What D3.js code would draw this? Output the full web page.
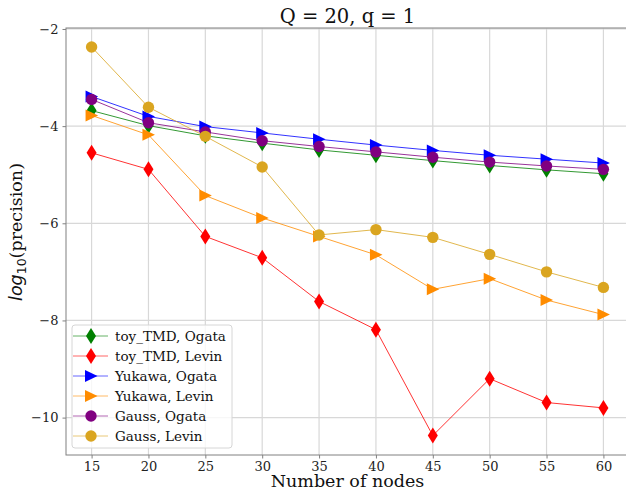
<!DOCTYPE html>
<html>
<head>
<meta charset="utf-8">
<script src="https://cdn.jsdelivr.net/npm/d3@7"></script>
<style>
  body { margin: 0; background: #fff; }
  svg { font-family: "DejaVu Serif", serif; }
</style>
</head>
<body>
<svg id="chart" width="626" height="490"></svg>
<script>
var nodes = [15, 20, 25, 30, 35, 40, 45, 50, 55, 60];
var xTicks = [15, 20, 25, 30, 35, 40, 45, 50, 55, 60];
var yTicks = [-10, -8, -6, -4, -2];

var toyOgata   = [-3.68, -3.99, -4.20, -4.35, -4.49, -4.60, -4.71, -4.81, -4.90, -4.98];
var toyLevin   = [-4.55, -4.89, -6.27, -6.71, -7.61, -8.19, -10.37, -9.20, -9.69, -9.80];
var yukOgata   = [-3.39, -3.80, -4.01, -4.14, -4.27, -4.39, -4.50, -4.60, -4.68, -4.76];
var yukLevin   = [-3.78, -4.18, -5.43, -5.89, -6.27, -6.65, -7.36, -7.14, -7.58, -7.88];
var gaussOgata = [-3.45, -3.93, -4.12, -4.30, -4.42, -4.53, -4.64, -4.74, -4.82, -4.89];
var gaussLevin = [-2.37, -3.61, -4.21, -4.84, -6.24, -6.13, -6.29, -6.64, -7.00, -7.32];

var series = [
  {name: 'toy_TMD, Ogata', vals: toyOgata, color: '#008000', marker: 'diamond'},
  {name: 'toy_TMD, Levin', vals: toyLevin, color: '#ff0000', marker: 'diamond'},
  {name: 'Yukawa, Ogata', vals: yukOgata, color: '#0000ff', marker: 'tri'},
  {name: 'Yukawa, Levin', vals: yukLevin, color: '#ff8c00', marker: 'tri'},
  {name: 'Gauss, Ogata', vals: gaussOgata, color: '#800080', marker: 'circle'},
  {name: 'Gauss, Levin', vals: gaussLevin, color: '#daa520', marker: 'circle'}
];

var plotL = 66, plotR = 629, plotT = 28, plotB = 455;
var svg = d3.select('#chart');

var x = d3.scaleLinear().domain([12.75, 62.25]).range([plotL, plotR]);
var y = d3.scaleLinear().domain([-10.77, -1.98]).range([plotB, plotT]);

function markerPath(type) {
  if (type === 'diamond') return 'M0,-8L5,0L0,8L-5,0Z';
  if (type === 'tri') return 'M-6,-6L6.5,0L-6,6Z';
  return d3.symbol().type(d3.symbolCircle).size(Math.PI * 5.7 * 5.7)();
}

// grid
var grid = svg.append('g');
grid.selectAll('line.gx').data(xTicks).enter().append('line')
  .attr('x1', d => x(d)).attr('x2', d => x(d))
  .attr('y1', plotT).attr('y2', plotB)
  .attr('stroke', '#d8d8d8').attr('stroke-width', 1.2);
grid.selectAll('line.gy').data(yTicks).enter().append('line')
  .attr('x1', plotL).attr('x2', plotR)
  .attr('y1', d => y(d)).attr('y2', d => y(d))
  .attr('stroke', '#d8d8d8').attr('stroke-width', 1.2);

// series
var line = d3.line().x((d, i) => x(nodes[i])).y(d => y(d));
series.forEach(function(s) {
  var g = svg.append('g');
  g.append('path').attr('d', line(s.vals))
    .attr('fill', 'none').attr('stroke', s.color)
    .attr('stroke-width', 1).attr('stroke-opacity', 0.8);
  g.selectAll('path.m').data(s.vals).enter().append('path')
    .attr('class', 'm')
    .attr('d', markerPath(s.marker))
    .attr('transform', (d, i) => 'translate(' + x(nodes[i]) + ',' + y(d) + ')')
    .attr('fill', s.color);
});

// axes
var xAxis = d3.axisBottom(x).tickValues(xTicks).tickSize(3.5).tickPadding(3);
var yAxis = d3.axisLeft(y).tickValues(yTicks).tickSize(3.5).tickPadding(4)
  .tickFormat(d => d < 0 ? '\u2212' + Math.abs(d) : d);

var gx = svg.append('g').attr('transform', 'translate(0,' + plotB + ')').call(xAxis);
var gy = svg.append('g').attr('transform', 'translate(' + plotL + ',0)').call(yAxis);
[gx, gy].forEach(function(g) {
  g.select('.domain').remove();
  g.selectAll('.tick line').attr('stroke', '#808080');
  g.selectAll('.tick text').attr('font-family', 'DejaVu Serif').attr('font-size', 13).attr('fill', '#222');
});

svg.append('rect').attr('x', plotL).attr('y', plotT)
  .attr('width', plotR - plotL).attr('height', plotB - plotT)
  .attr('fill', 'none').attr('stroke', '#808080').attr('stroke-width', 1);

// title & labels
svg.append('text').attr('x', (plotL + plotR) / 2).attr('y', 23)
  .attr('text-anchor', 'middle').attr('font-size', 19.5).attr('fill', '#111')
  .text('Q = 20, q = 1');

svg.append('text').attr('x', (plotL + plotR) / 2).attr('y', 487)
  .attr('text-anchor', 'middle').attr('font-size', 17.5).attr('fill', '#111')
  .text('Number of nodes');

var yl = svg.append('text')
  .attr('transform', 'translate(22,232) rotate(-90)')
  .attr('text-anchor', 'middle').attr('font-size', 17.5).attr('fill', '#111');
yl.append('tspan').attr('font-family', 'DejaVu Sans').attr('font-style', 'italic').text('log');
yl.append('tspan').attr('font-family', 'DejaVu Sans').attr('font-size', 12.5).attr('dy', 4).text('10');
yl.append('tspan').attr('dy', -4).text('(precision)');

// legend
var lg = svg.append('g').attr('transform', 'translate(72,325)');
lg.append('rect').attr('width', 160).attr('height', 123).attr('rx', 3)
  .attr('fill', '#fff').attr('fill-opacity', 0.8)
  .attr('stroke', '#d6d6d6').attr('stroke-width', 1);
series.forEach(function(s, i) {
  var row = lg.append('g').attr('transform', 'translate(0,' + (11 + i * 20) + ')');
  row.append('line').attr('x1', 1).attr('x2', 36)
    .attr('stroke', s.color).attr('stroke-width', 1).attr('stroke-opacity', 0.6);
  row.append('path').attr('d', markerPath(s.marker))
    .attr('transform', 'translate(19,0)').attr('fill', s.color);
  row.append('text').attr('x', 43).attr('y', 4.5)
    .attr('font-size', 13.5).attr('fill', '#111').text(s.name);
});
</script>
</body>
</html>
